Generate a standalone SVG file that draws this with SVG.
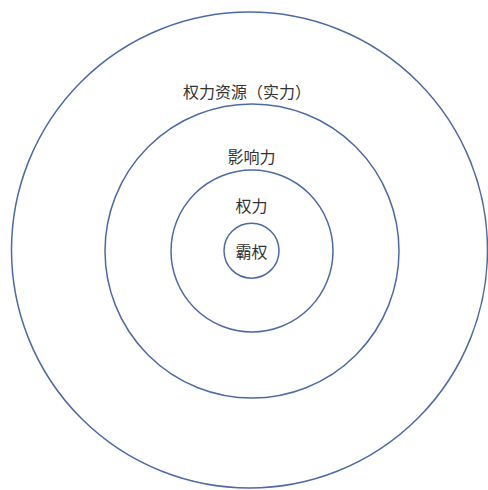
<svg xmlns="http://www.w3.org/2000/svg" width="488" height="490" viewBox="0 0 488 490">
<style>
.ring{fill:none;stroke:#4d6aa6;stroke-width:1.5}
.lbl{font-family:"Noto Sans CJK SC","Noto Sans",sans-serif;font-size:16px;fill:#333;text-anchor:middle}
</style>
<rect width="488" height="490" fill="#fff"/>
<g id="ring-resources">
<circle class="ring" cx="249.5" cy="250" r="238"/>
<text class="lbl" x="247" y="98">权力资源（实力）</text>
</g>
<g id="ring-influence">
<circle class="ring" cx="252" cy="251" r="147"/>
<text class="lbl" x="251.5" y="163">影响力</text>
</g>
<g id="ring-power">
<circle class="ring" cx="252" cy="251" r="81"/>
<text class="lbl" x="251.5" y="212">权力</text>
</g>
<g id="ring-hegemony">
<circle class="ring" cx="251.5" cy="250.7" r="27.5"/>
<text class="lbl" x="251.5" y="258">霸权</text>
</g>
<g id="connectors"></g>
</svg>
